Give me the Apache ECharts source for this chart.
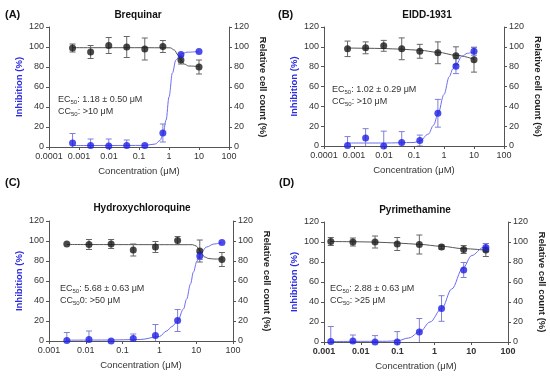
<!DOCTYPE html>
<html><head><meta charset="utf-8">
<script src="https://cdn.jsdelivr.net/npm/echarts@6/dist/echarts.min.js"></script>
<style>html,body{margin:0;padding:0;background:#fff}#c{width:550px;height:376px}</style>
</head><body><div id="c"></div>
<script>
// ---------- Panel A: Brequinar ----------
const concA = [0.00061, 0.00244, 0.0098, 0.039, 0.156, 0.625, 2.5, 10];
const inhA = [4, 1.5, 1, 1.5, 1.5, 14, 92.5, 95.5];
const inhSdA = [9.5, 6.5, 7, 5.5, 0, 9, 0, 0];
const cellA = [99, 95, 101.5, 100, 98, 100.5, 87, 80];
const cellSdA = [4, 6.5, 8, 10.5, 11, 6, 4, 7];
const fitInhXA = [0.00061, 0.01, 0.156, 0.35, 0.5, 0.625, 0.8, 1.0, 1.3, 1.7, 2.5, 4, 10];
const fitInhYA = [1.5, 1.5, 1.6, 3, 6.5, 12, 27, 50, 74, 87, 93, 94.8, 95.5];
const fitCellXA = [0.00061, 0.1, 1.1, 1.5, 2.0, 2.5, 3.2, 4.5, 10];
const fitCellYA = [99.3, 99.3, 99.2, 97, 92, 87, 83, 81, 80.5];

// ---------- Panel B: EIDD-1931 ----------
const concB = [0.00061, 0.00244, 0.0098, 0.039, 0.156, 0.625, 2.5, 10];
const inhB = [0.5, 8, 0, 3.5, 5.5, 33, 80.5, 95.5];
const inhSdB = [9, 9.5, 15, 11, 5.5, 14, 7.5, 4];
const cellB = [98, 99, 101, 98, 95.5, 94, 91, 87];
const cellSdB = [7.8, 6, 5.5, 11, 7, 11, 9, 12.5];
const fitInhXB = [0.00061, 0.01, 0.1, 0.156, 0.3, 0.45, 0.625, 1.0, 1.5, 2.0, 2.5, 4, 6, 10];
const fitInhYB = [3, 3, 3.5, 5, 12, 21, 32, 52, 70, 78, 82, 90.5, 93.5, 95];
const fitCellXB = [0.00061, 0.00244, 0.0098, 0.039, 0.156, 0.625, 2.5, 10];
const fitCellYB = [98.8, 98.6, 98.3, 97.6, 96.5, 94.5, 91.5, 87.5];

// ---------- Panel C: Hydroxychloroquine ----------
const concC = [0.00305, 0.0122, 0.0488, 0.195, 0.781, 3.125, 12.5, 50];
const inhC = [0.5, 1.5, 0, 2.5, 5.5, 20.5, 85, 98.5];
const inhSdC = [8, 8.5, 0, 4.5, 11, 11, 3.5, 0];
const cellC = [97, 96.5, 97, 91, 94, 100.5, 90, 81.5];
const cellSdC = [0, 5, 4.5, 6, 5.5, 4, 11, 7];
const fitInhXC = [0.00305, 0.05, 0.3, 1.0, 1.57, 2.2, 3.125, 4.5, 5.5, 7, 8.4, 10.5, 12.6, 19.3, 30, 50];
const fitInhYC = [0.8, 1, 1.5, 4.5, 10, 14.5, 20, 32, 42, 57, 69, 80, 87, 94, 97, 98.5];
const fitCellXC = [0.00305, 8, 10, 12, 14, 17, 22, 30, 50];
const fitCellYC = [96.5, 96.3, 95, 91.5, 87.5, 84, 82.5, 82, 82];

// ---------- Panel D: Pyrimethamine ----------
const concD = [0.00153, 0.0061, 0.0244, 0.0977, 0.39, 1.5625, 6.25, 25];
const inhD = [0.5, 1, 0, 0, 10, 33.5, 72, 94.5];
const inhSdD = [15, 6, 6.4, 10.4, 13.5, 12.8, 7.5, 4];
const cellD = [100.5, 100, 100, 98, 97.5, 95, 92.5, 92];
const cellSdD = [4, 4, 6, 6.5, 9.5, 2, 4, 6.5];
const fitInhXD = [0.00153, 0.05, 0.098, 0.2, 0.41, 0.76, 1.58, 2.96, 5.9, 10.4, 21.2, 25];
const fitInhYD = [0.5, 0.7, 1.2, 4, 10.5, 20, 33.5, 53, 73.8, 86.5, 94.5, 95.2];
const fitCellXD = [0.00153, 0.0061, 0.0244, 0.0977, 0.39, 1.5625, 6.25, 25];
const fitCellYD = [100.5, 100.3, 99.9, 99, 97.6, 95.7, 93.3, 91.8];

const titles = ['Brequinar', 'EIDD-1931', 'Hydroxychloroquine', 'Pyrimethamine'];
const letters = ['(A)', '(B)', '(C)', '(D)'];
const ecTexts = ['1.18 ± 0.50 μM', '1.02 ± 0.29 μM', '5.68 ± 0.63 μM', '2.88 ± 0.63 μM'];
const ccTexts = [': >10 μM', ': >10 μM', '0: >50 μM', ': >25 μM'];
const xMins = [0.0001, 0.0001, 0.001, 0.001];
const xMax = 100;
const yTicks = [0, 20, 40, 60, 80, 100, 120];

const panels = [
  {conc: concA, inh: inhA, inhSd: inhSdA, cell: cellA, cellSd: cellSdA, fix: fitInhXA, fiy: fitInhYA, fcx: fitCellXA, fcy: fitCellYA},
  {conc: concB, inh: inhB, inhSd: inhSdB, cell: cellB, cellSd: cellSdB, fix: fitInhXB, fiy: fitInhYB, fcx: fitCellXB, fcy: fitCellYB},
  {conc: concC, inh: inhC, inhSd: inhSdC, cell: cellC, cellSd: cellSdC, fix: fitInhXC, fiy: fitInhYC, fcx: fitCellXC, fcy: fitCellYC},
  {conc: concD, inh: inhD, inhSd: inhSdD, cell: cellD, cellSd: cellSdD, fix: fitInhXD, fiy: fitInhYD, fcx: fitCellXD, fcy: fitCellYD}
];

// layout
const FONT = '"Liberation Sans", Arial, sans-serif';
const grids = [
  {left: 49, top: 27, width: 180, height: 120},
  {left: 324, top: 27, width: 180, height: 119},
  {left: 49, top: 221, width: 184, height: 120},
  {left: 324, top: 222, width: 184, height: 120}
];
const titlePos = [[138, 15], [427, 15], [142, 208], [415, 210]];
const letterPos = [[5, 15], [278, 15], [5, 183], [279, 183]];
const notePos = [[58, 100], [332, 90], [60, 289], [330, 289]];

const BLUE = '#1f1fe6', BLUE_LINE = '#6c6cf2', BLUE_ERR = '#7f7fd8';
const BLACK = '#1a1a1a', BLACK_LINE = '#555555', BLACK_ERR = '#666666';
const AX = '#555555', LBL = '#333333';

function zip(a, b) { return a.map((v, i) => [v, b[i]]); }
function errData(x, m, s) { return x.map((v, i) => [v, m[i] - s[i], m[i] + s[i]]); }
function errRender(color) {
  return function (params, api) {
    const x = api.value(0), lo = api.value(1), hi = api.value(2);
    if (hi === lo) return null;
    const a = api.coord([x, lo]), b = api.coord([x, hi]);
    const w = 3;
    const st = {stroke: color, lineWidth: 1};
    return {type: 'group', children: [
      {type: 'line', shape: {x1: a[0], y1: a[1], x2: b[0], y2: b[1]}, style: st},
      {type: 'line', shape: {x1: b[0] - w, y1: b[1], x2: b[0] + w, y2: b[1]}, style: st},
      {type: 'line', shape: {x1: a[0] - w, y1: a[1], x2: a[0] + w, y2: a[1]}, style: st}
    ]};
  };
}
function fmtLog(v) { return String(parseFloat(Number(v).toPrecision(6))); }

const option = {
  animation: false,
  grid: grids.map(g => Object.assign({outerBoundsMode: 'none', containLabel: false}, g)),
  xAxis: grids.map((g, i) => ({
    type: 'log', logBase: 10, gridIndex: i, min: xMins[i], max: xMax,
    name: 'Concentration (μM)', nameLocation: 'middle', nameGap: 19,
    nameTextStyle: {fontSize: 9.5, color: LBL, fontFamily: FONT},
    axisLine: {show: true, lineStyle: {color: AX, width: 1}},
    axisTick: {show: true, length: 3, lineStyle: {color: AX}},
    minorTick: {show: false}, splitLine: {show: false},
    axisLabel: {fontSize: 9, color: LBL, margin: 5, fontFamily: FONT, formatter: fmtLog,
      fontWeight: i === 3 ? 'bold' : 'normal'}
  })),
  yAxis: [],
  series: [],
  graphic: []
};

grids.forEach((g, i) => {
  const common = {
    type: 'value', gridIndex: i, min: yTicks[0], max: yTicks[yTicks.length - 1], interval: 20,
    nameLocation: 'middle',
    axisLine: {show: true, lineStyle: {color: AX, width: 1}},
    axisTick: {show: true, length: 3, lineStyle: {color: AX}},
    splitLine: {show: false},
    axisLabel: {fontSize: 9, color: LBL, margin: 5, fontFamily: FONT}
  };
  option.yAxis.push(Object.assign({}, common, {
    position: 'left', name: 'Inhibition (%)', nameGap: 25,
    nameTextStyle: {fontSize: 9.5, fontWeight: 'bold', color: '#2a2ae0', fontFamily: FONT}
  }));
  option.yAxis.push(Object.assign({}, common, {
    position: 'right', name: 'Relative cell count (%)', nameGap: 29, nameRotate: -90,
    nameTextStyle: {fontSize: 9.5, fontWeight: 'bold', color: '#222', fontFamily: FONT}
  }));
  const p = panels[i];
  const yl = 2 * i, yr = 2 * i + 1;
  option.series.push(
    {type: 'line', xAxisIndex: i, yAxisIndex: yr, data: zip(p.fcx, p.fcy), smooth: 0.35, smoothMonotone: 'x',
      showSymbol: false, lineStyle: {color: BLACK_LINE, width: 1}, z: 2},
    {type: 'line', xAxisIndex: i, yAxisIndex: yl, data: zip(p.fix, p.fiy), smooth: 0.35, smoothMonotone: 'x',
      showSymbol: false, lineStyle: {color: BLUE_LINE, width: 1}, z: 2},
    {type: 'custom', xAxisIndex: i, yAxisIndex: yr, data: errData(p.conc, p.cell, p.cellSd), clip: true,
      encode: {x: 0, y: [1, 2]}, renderItem: errRender(BLACK_ERR), z: 3},
    {type: 'custom', xAxisIndex: i, yAxisIndex: yl, data: errData(p.conc, p.inh, p.inhSd), clip: true,
      encode: {x: 0, y: [1, 2]}, renderItem: errRender(BLUE_ERR), z: 3},
    {type: 'scatter', xAxisIndex: i, yAxisIndex: yr, data: zip(p.conc, p.cell), symbolSize: 7,
      itemStyle: {color: BLACK}, z: 4},
    {type: 'scatter', xAxisIndex: i, yAxisIndex: yl, data: zip(p.conc, p.inh), symbolSize: 7,
      itemStyle: {color: BLUE}, z: 5}
  );
  option.graphic.push(
    {type: 'text', left: titlePos[i][0], top: titlePos[i][1], style: {
      text: titles[i], fontSize: 10, fontWeight: 'bold', fill: '#111', fontFamily: FONT,
      align: 'center', verticalAlign: 'middle'}, position: [titlePos[i][0], titlePos[i][1]]},
  );
});

// place texts with explicit positions (x, y)
option.graphic = [];
for (let i = 0; i < 4; i++) {
  option.graphic.push({type: 'text', x: titlePos[i][0], y: titlePos[i][1], style: {
    text: titles[i], fontSize: 10, fontWeight: 'bold', fill: '#111', fontFamily: FONT,
    align: 'center', verticalAlign: 'middle'}});
  option.graphic.push({type: 'text', x: letterPos[i][0], y: letterPos[i][1], style: {
    text: letters[i], fontSize: 11, fontWeight: 'bold', fill: '#111', fontFamily: FONT,
    align: 'left', verticalAlign: 'middle'}});
  option.graphic.push({type: 'text', x: notePos[i][0], y: notePos[i][1] - 6, style: {
    text: '{a|EC}{b|50}{a|: ' + ecTexts[i] + '}\n{a|CC}{b|50}{a|' + ccTexts[i] + '}',
    fontFamily: FONT, align: 'left', verticalAlign: 'top',
    rich: {
      a: {fontSize: 9, fill: '#333', lineHeight: 11.5, fontFamily: FONT},
      b: {fontSize: 6, fill: '#333', lineHeight: 11.5, verticalAlign: 'bottom', fontFamily: FONT}
    }}});
}

const chart = echarts.init(document.getElementById('c'), null, {renderer: 'canvas'});
chart.setOption(option);
</script></body></html>
